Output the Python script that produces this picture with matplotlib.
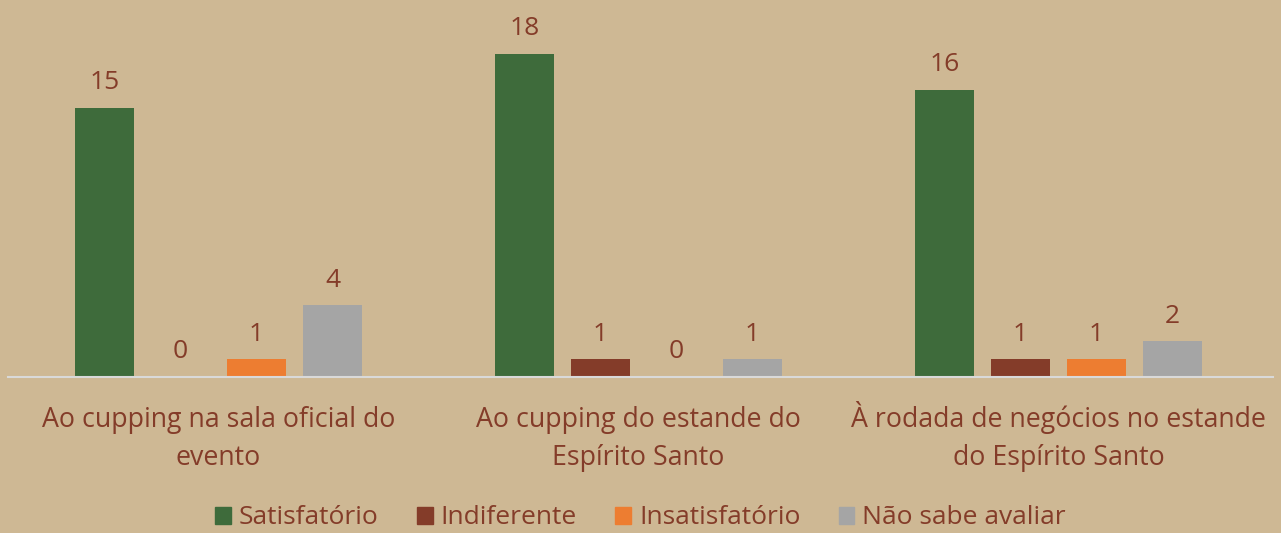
import matplotlib
matplotlib.use("Agg")
import matplotlib.pyplot as plt
import matplotlib.transforms as mtransforms
import numpy as np
from matplotlib.patches import Patch

categories = ["Ao cupping na sala oficial do\nevento",
              "Ao cupping do estande do\nEspírito Santo",
              "À rodada de negócios no estande\ndo Espírito Santo"]
series = ["Satisfatório", "Indiferente", "Insatisfatório", "Não sabe avaliar"]
satisfatorio = [15, 18, 16]
indiferente = [0, 1, 1]
insatisfatorio = [1, 0, 1]
nao_sabe = [4, 1, 2]

colors = ["#3E6B3B", "#843C29", "#ED7D31", "#A5A5A5"]
bg = "#CEB894"
txt = "#843C29"

plt.rcParams['font.family'] = ['Open Sans', 'DejaVu Sans']

W, H = 1281, 533
fig = plt.figure(figsize=(W / 100, H / 100), dpi=100, facecolor=bg)
ax = fig.add_axes([8 / W, 156 / H, 1265 / W, 377 / H])
ax.set_facecolor(bg)

x = np.arange(len(categories))
width = 0.14
step = 0.181
data = [satisfatorio, indiferente, insatisfatorio, nao_sabe]
for i, vals in enumerate(data):
    pos = x + (i - 1.5) * step
    bars = ax.bar(pos, vals, width, color=colors[i])
    for b, v in zip(bars, vals):
        ax.annotate(str(v), (b.get_x() + b.get_width() / 2, v),
                    xytext=(0, 9), textcoords="offset points",
                    ha="center", va="bottom", color=txt, fontsize=19)

ax.set_xlim(-0.501, 2.511)
ax.set_ylim(0, 21)
for s in ax.spines.values():
    s.set_visible(False)
ax.axhline(0, color="#D9D9D9", lw=1.5, clip_on=False)
ax.set_yticks([])
ax.set_xticks([])

# category labels, one text per line so accents don't shift the baseline
trans = mtransforms.blended_transform_factory(ax.transData, fig.transFigure)
baselines = [427, 465]
for xi, cat in zip(x, categories):
    for line, yb in zip(cat.split("\n"), baselines):
        ax.text(xi, 1 - yb / H, line, transform=trans, ha="center",
                va="baseline", color=txt, fontsize=19.3)

handles = [Patch(color=c, label=s) for c, s in zip(colors, series)]
fig.legend(handles=handles, loc="center", bbox_to_anchor=(0.5, 1 - 518 / H),
           ncol=4, frameon=False, fontsize=19, labelcolor=txt,
           handlelength=0.6, handleheight=0.6, handletextpad=0.3,
           columnspacing=1.45)

fig.savefig("out.png", dpi=100, facecolor=bg)
